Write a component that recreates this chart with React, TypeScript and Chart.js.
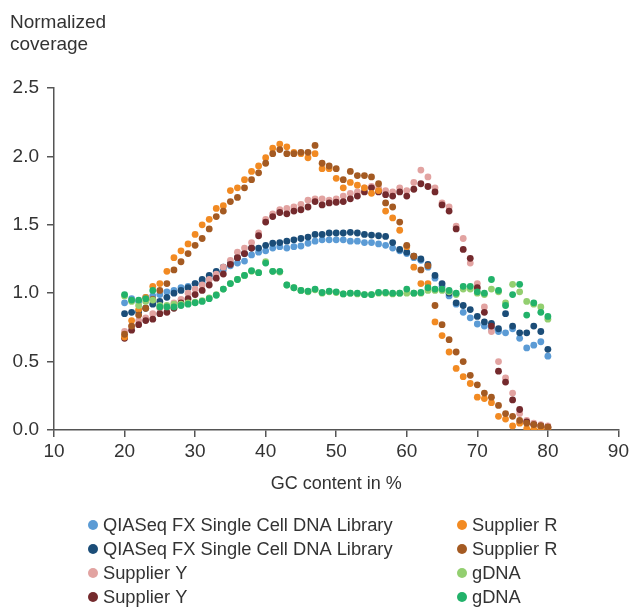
import { useEffect, useRef } from 'react';
import { Chart, registerables } from 'chart.js';

Chart.register(...registerables);

const gcContent = [
  20, 21, 22, 23, 24, 25, 26, 27, 28, 29,
  30, 31, 32, 33, 34, 35, 36, 37, 38, 39,
  40, 41, 42, 43, 44, 45, 46, 47, 48, 49,
  50, 51, 52, 53, 54, 55, 56, 57, 58, 59,
  60, 61, 62, 63, 64, 65, 66, 67, 68, 69,
  70, 71, 72, 73, 74, 75, 76, 77, 78, 79, 80,
];

const qiaLight = [
  0.93, 0.96, 0.94, 0.97, 0.98, 0.99, 1.01, 1.02, 1.04, 1.05,
  1.07, 1.08, 1.11, 1.15, 1.17, 1.2, 1.22, 1.235, 1.28, 1.3,
  1.31, 1.33, 1.34, 1.33, 1.34, 1.345, 1.365, 1.38, 1.39, 1.39,
  1.39, 1.39, 1.38, 1.38, 1.37, 1.37, 1.36, 1.35, 1.33, 1.31,
  1.29, 1.26, 1.24, 1.19, 1.11, 1.05, 0.98, 0.92, 0.86, 0.82,
  0.775, 0.76, 0.74, 0.72, 0.71, 0.74, 0.67, 0.6, 0.62, 0.645, 0.54,
];

const qiaDark = [
  0.85, 0.86, 0.865, 0.89, 0.92, 0.94, 0.97, 1.0, 1.02, 1.04,
  1.07, 1.1, 1.13, 1.16, 1.19, 1.22, 1.26, 1.29, 1.33, 1.33,
  1.35, 1.365, 1.37, 1.38, 1.39, 1.4, 1.41, 1.43, 1.43, 1.44,
  1.44, 1.44, 1.445, 1.44, 1.43, 1.425, 1.42, 1.415, 1.37, 1.32,
  1.3, 1.27, 1.25, 1.21, 1.13, 1.07, 1.0, 0.93, 0.91, 0.88,
  0.83, 0.79, 0.78, 0.74, 0.85, 0.76, 0.71, 0.71, 0.76, 0.72, 0.59,
];

const supplierYLight = [
  0.72, 0.76, 0.8, 0.82, 0.85, 0.89, 0.9, 0.93, 0.955, 1.0,
  1.03, 1.06, 1.1, 1.14, 1.19, 1.24, 1.3, 1.33, 1.37, 1.44,
  1.54, 1.58, 1.61, 1.62, 1.63, 1.65, 1.68, 1.69, 1.69, 1.68,
  1.69, 1.71, 1.73, 1.74, 1.77, 1.78, 1.77, 1.75, 1.74, 1.77,
  1.75, 1.81, 1.9, 1.85, 1.77, 1.66, 1.63, 1.49, 1.4, 1.22,
  1.07, 0.9, 0.72, 0.5, 0.38, 0.27, 0.12, 0.07, 0.05, 0.04, 0.03,
];

const supplierYDark = [
  0.67, 0.73, 0.77, 0.8, 0.81, 0.85, 0.86, 0.89, 0.93, 0.96,
  0.99, 1.02, 1.06, 1.11, 1.14, 1.21, 1.26, 1.29, 1.33, 1.42,
  1.52, 1.56, 1.59, 1.58, 1.6, 1.61, 1.63, 1.67, 1.645, 1.66,
  1.665, 1.67, 1.69, 1.71, 1.74, 1.77, 1.74, 1.72, 1.71, 1.74,
  1.71, 1.76, 1.8, 1.78, 1.74, 1.645, 1.6, 1.47, 1.32, 1.255,
  1.04, 0.86, 0.76, 0.43, 0.35, 0.22, 0.15, 0.06, 0.04, 0.03, 0.02,
];

const supplierRLight = [
  0.68, 0.8, 0.88, 0.97, 1.05, 1.07, 1.16, 1.26, 1.31, 1.36,
  1.43, 1.5, 1.54, 1.62, 1.64, 1.75, 1.77, 1.83, 1.89, 1.93,
  1.99, 2.06, 2.09, 2.07, 2.03, 2.02, 1.99, 2.02, 1.91, 1.91,
  1.84, 1.77, 1.81, 1.79, 1.77, 1.73, 1.75, 1.6, 1.55, 1.46,
  1.34, 1.19, 1.07, 1.07, 0.79, 0.69, 0.57, 0.45, 0.39, 0.34,
  0.24, 0.23, 0.2, 0.1, 0.08, 0.03, 0.05, 0.01, 0.005, 0.005, 0.01,
];

const supplierRDark = [
  0.7, 0.76, 0.84, 0.89, 0.955, 1.02, 1.07, 1.17, 1.23, 1.29,
  1.35, 1.4, 1.47, 1.56, 1.6, 1.67, 1.7, 1.77, 1.83, 1.88,
  1.95, 2.02, 2.05, 2.02, 2.02, 2.03, 2.03, 2.08, 1.95, 1.93,
  1.91, 1.83, 1.89, 1.86, 1.86, 1.85, 1.8, 1.66, 1.63, 1.52,
  1.35, 1.27, 1.17, 1.2, 0.91, 0.77, 0.66, 0.57, 0.5, 0.4,
  0.33, 0.27, 0.24, 0.18, 0.12, 0.1, 0.07, 0.05, 0.04, 0.03, 0.02,
];

const gDnaLight = [
  0.98, 0.94, 0.91, 0.94, 0.95, 0.91, 0.91, 0.92, 0.92, 0.93,
  0.935, 0.945, 0.965, 0.99, 1.03, 1.07, 1.1, 1.13, 1.16, 1.15,
  1.23, 1.16, 1.155, 1.06, 1.04, 1.02, 1.01, 1.025, 1.0, 1.01,
  1.005, 0.995, 1.0, 0.995, 0.99, 0.99, 1.0, 1.0, 0.995, 1.0,
  1.0, 1.0, 1.0, 1.02, 1.02, 1.02, 1.01, 0.99, 1.03, 1.03,
  1.0, 0.99, 1.03, 1.01, 0.93, 1.065, 1.01, 0.94, 0.92, 0.9, 0.81,
];

const gDnaDark = [
  0.99, 0.95, 0.95, 0.96, 1.02, 0.9, 0.9, 0.9, 0.91, 0.92,
  0.93, 0.94, 0.96, 0.985, 1.03, 1.07, 1.1, 1.13, 1.165, 1.15,
  1.22, 1.16, 1.16, 1.06, 1.04, 1.02, 1.015, 1.03, 1.005, 1.015,
  1.01, 0.995, 1.0, 1.0, 0.99, 0.99, 1.005, 1.005, 1.0, 1.0,
  1.03, 1.0, 1.005, 1.04, 1.03, 1.03, 1.02, 1.0, 1.05, 1.05,
  1.01, 1.0, 1.1, 1.02, 0.91, 0.99, 1.065, 0.84, 0.93, 0.86, 0.83,
];

const xTicks = [10, 20, 30, 40, 50, 60, 70, 80, 90];
const yTicks = [0, 0.5, 1.0, 1.5, 2.0, 2.5];

const seriesLabels = [
  'QIASeq FX Single Cell DNA Library',
  'QIASeq FX Single Cell DNA Library',
  'Supplier Y',
  'Supplier Y',
  'Supplier R',
  'Supplier R',
  'gDNA',
  'gDNA',
];

const seriesValues = [
  qiaLight, qiaDark, supplierYLight, supplierYDark,
  supplierRLight, supplierRDark, gDnaLight, gDnaDark,
];

const seriesColors = [
  '#5b9bd5', '#1b4d78', '#e2a3a1', '#742a2d',
  '#f28a22', '#a45a22', '#93cf70', '#22b26a',
];

const FONT = '"Liberation Sans", Arial, sans-serif';
const TEXT = '#333333';
const AXIS = '#555555';

const twoColumnLegend = {
  id: 'twoColumnLegend',
  afterDraw(chart: any) {
    const { ctx } = chart;
    const ds = chart.data.datasets;
    ctx.save();
    ctx.font = `18.3px ${FONT}`;
    ctx.textBaseline = 'middle';
    ctx.textAlign = 'left';
    ds.forEach((d: any, i: number) => {
      const col = Math.floor(i / 4);
      const row = i % 4;
      const cx = col === 0 ? 93 : 462;
      const cy = 525 + row * 24;
      ctx.fillStyle = d.backgroundColor;
      ctx.beginPath();
      ctx.arc(cx, cy, 5, 0, Math.PI * 2);
      ctx.fill();
      ctx.fillStyle = TEXT;
      ctx.fillText(d.label, cx + 10, cy + 1);
    });
    ctx.restore();
  },
};

export default function App() {
  const ref = useRef<HTMLCanvasElement | null>(null);

  useEffect(() => {
    document.body.style.margin = '0';
    document.body.style.overflow = 'hidden';
    const canvas = ref.current;
    if (!canvas) return;
    const datasets = seriesValues.map((vals, i) => ({
      label: seriesLabels[i],
      data: vals.map((v, j) => ({ x: gcContent[j], y: v })),
      backgroundColor: seriesColors[i],
      borderColor: seriesColors[i],
      pointRadius: 3.4,
      pointBorderWidth: 0,
      showLine: false,
      order: 8 - i,
    }));
    const chart = new Chart(canvas, {
      type: 'scatter',
      data: { datasets },
      plugins: [twoColumnLegend],
      options: {
        animation: false,
        responsive: false,
        devicePixelRatio: 1,
        layout: { padding: { left: 10, right: 12, top: 0, bottom: 107 } },
        plugins: {
          legend: { display: false },
          tooltip: { enabled: false },
          title: {
            display: true,
            text: ['Normalized', 'coverage'],
            align: 'start',
            color: TEXT,
            font: { family: FONT, size: 19, weight: 'normal', lineHeight: 1.2 },
            padding: { top: 11, bottom: 31.4 },
          },
        },
        scales: {
          x: {
            type: 'linear',
            min: 10,
            max: 90,
            afterFit: (s: any) => { s.height = 70; },
            afterBuildTicks: (s: any) => { s.ticks = xTicks.map((v) => ({ value: v })); },
            ticks: {
              color: TEXT,
              font: { family: FONT, size: 19 },
              padding: 3,
              callback: (v: any) => String(v),
            },
            grid: { display: true, drawOnChartArea: false, drawTicks: true, tickLength: 7, color: AXIS, lineWidth: 1.5 },
            border: { display: true, color: AXIS, width: 1.5 },
            title: {
              display: true,
              text: 'GC content in %',
              color: TEXT,
              font: { family: FONT, size: 18, lineHeight: 1.2 },
              padding: { top: 0, bottom: 5 },
            },
          },
          y: {
            type: 'linear',
            min: 0,
            max: 2.5,
            afterFit: (s: any) => { s.width = 44; },
            afterBuildTicks: (s: any) => { s.ticks = yTicks.map((v) => ({ value: v })); },
            ticks: {
              color: TEXT,
              font: { family: FONT, size: 19 },
              padding: 8,
              callback: (v: any) => Number(v).toFixed(1),
            },
            grid: { display: true, drawOnChartArea: false, drawTicks: true, tickLength: 7, color: AXIS, lineWidth: 1.5 },
            border: { display: true, color: AXIS, width: 1.5 },
          },
        },
      },
    } as any);
    return () => chart.destroy();
  }, []);

  return (
    <div style={{ width: 632, height: 607, background: '#ffffff' }}>
      <canvas ref={ref} width={632} height={607} style={{ display: 'block' }} />
    </div>
  );
}
